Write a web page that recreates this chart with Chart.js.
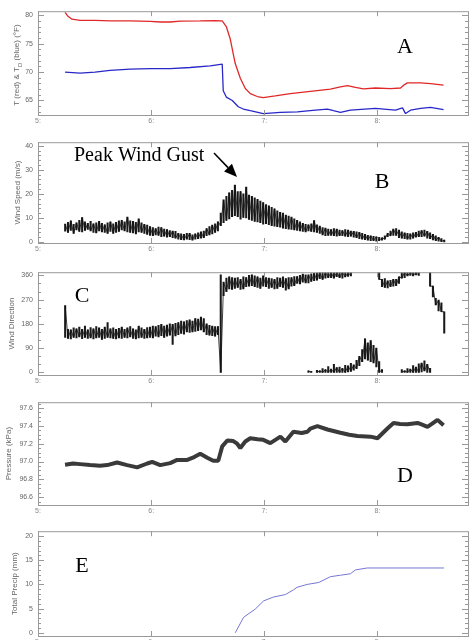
<!DOCTYPE html>
<html>
<head>
<meta charset="utf-8">
<script src="https://cdn.jsdelivr.net/npm/chart.js@4.4.1/dist/chart.umd.min.js"></script>
<style>
  body { margin: 0; background: #fff; width: 470px; height: 640px; overflow: hidden; position: relative; }
  .panel { position: absolute; left: 0; width: 470px; }
</style>
</head>
<body>
<div class="panel" style="top:2px;height:133px"><canvas id="cA"></canvas></div>
<div class="panel" style="top:133px;height:130px"><canvas id="cB"></canvas></div>
<div class="panel" style="top:263px;height:132px"><canvas id="cC"></canvas></div>
<div class="panel" style="top:393px;height:132px"><canvas id="cD"></canvas></div>
<div class="panel" style="top:522px;height:134px"><canvas id="cE"></canvas></div>
<script>
// time axis is hours (5 = 5:00)
const hourTicks = [5, 6, 7, 8];

// A: temperature and dew point (F)
const tempTimes = [5.239, 5.265, 5.30, 5.372, 5.504, 5.637, 5.814, 5.991, 6.08, 6.168,
  6.257, 6.434, 6.566, 6.628, 6.664, 6.699, 6.743, 6.788, 6.832, 6.876,
  6.938, 6.991, 7.097, 7.230, 7.407, 7.584, 7.673, 7.735, 7.805, 7.876,
  7.982, 8.115, 8.204, 8.239, 8.265, 8.381, 8.469, 8.584];
const temp = [80.5, 79.8, 79.3, 79.1, 79.1, 79.0, 79.0, 78.9, 78.8, 78.8,
  78.95, 79.0, 79.05, 79.0, 78.0, 75.8, 71.5, 68.9, 67.1, 66.2,
  65.7, 65.5, 65.8, 66.2, 66.6, 67.0, 67.4, 67.6, 67.3, 67.05,
  67.2, 67.1, 67.2, 67.8, 68.1, 68.1, 67.95, 67.7];
const dewTimes = [5.239, 5.372, 5.504, 5.637, 5.814, 5.991, 6.168, 6.345, 6.522, 6.628,
  6.637, 6.664, 6.717, 6.770, 6.814, 6.876, 6.991, 7.142, 7.292, 7.451,
  7.558, 7.611, 7.673, 7.761, 7.982, 8.159, 8.221, 8.248, 8.292, 8.381,
  8.469, 8.584];
const dewPoint = [70.0, 69.8, 70.0, 70.3, 70.5, 70.6, 70.6, 70.8, 71.1, 71.4,
  66.7, 65.6, 65.0, 63.9, 63.5, 63.2, 62.7, 62.9, 63.0, 63.3,
  63.5, 63.2, 62.9, 63.3, 63.6, 63.3, 63.7, 62.7, 63.3, 63.6,
  63.8, 63.4];

// B and C: wind samples, each one a low..high spread
const windTimes = [
  5.24, 5.265, 5.29, 5.315, 5.34, 5.365, 5.39, 5.415, 5.44, 5.465,
  5.49, 5.515, 5.54, 5.565, 5.59, 5.615, 5.64, 5.665, 5.69, 5.715,
  5.74, 5.765, 5.79, 5.815, 5.84, 5.865, 5.89, 5.915, 5.94, 5.965,
  5.99, 6.015, 6.04, 6.065, 6.09, 6.115, 6.14, 6.165, 6.19, 6.215,
  6.24, 6.265, 6.29, 6.315, 6.34, 6.365, 6.39, 6.415, 6.44, 6.465,
  6.49, 6.515, 6.54, 6.565, 6.59, 6.615, 6.64, 6.665, 6.69, 6.715,
  6.74, 6.765, 6.79, 6.815, 6.84, 6.865, 6.89, 6.915, 6.94, 6.965,
  6.99, 7.015, 7.04, 7.065, 7.09, 7.115, 7.14, 7.165, 7.19, 7.215,
  7.24, 7.265, 7.29, 7.315, 7.34, 7.365, 7.39, 7.415, 7.44, 7.465,
  7.49, 7.515, 7.54, 7.565, 7.59, 7.615, 7.64, 7.665, 7.69, 7.715,
  7.74, 7.765, 7.79, 7.815, 7.84, 7.865, 7.89, 7.915, 7.94, 7.965,
  7.99, 8.015, 8.04, 8.065, 8.09, 8.115, 8.14, 8.165, 8.19, 8.215,
  8.24, 8.265, 8.29, 8.315, 8.34, 8.365, 8.39, 8.415, 8.44, 8.465,
  8.49, 8.515, 8.54, 8.565, 8.59];
const windSpeedHi = [
  7.5, 8.2, 8.8, 7.4, 8.0, 9.0, 10.2, 8.4, 7.8, 8.6,
  7.6, 8.0, 8.6, 7.8, 7.2, 8.0, 8.4, 7.6, 8.2, 8.8,
  9.0, 8.4, 10.4, 8.8, 8.6, 8.2, 9.6, 8.0, 7.4, 7.0,
  6.4, 6.0, 5.6, 6.2, 6.0, 5.4, 5.2, 4.8, 4.6, 4.4,
  3.6, 3.4, 3.2, 3.6, 3.6, 3.0, 3.4, 3.8, 4.2, 4.6,
  5.6, 6.4, 7.0, 7.6, 8.4, 12.0, 17.5, 19.0, 20.5, 21.5,
  23.7, 21.0, 21.0, 20.0, 22.8, 19.5, 19.0, 18.4, 17.8, 17.0,
  16.4, 15.6, 15.0, 14.4, 13.8, 13.0, 12.4, 12.0, 11.2, 10.8,
  10.4, 9.6, 9.0, 8.4, 7.8, 7.4, 7.2, 7.6, 8.9, 7.2,
  6.6, 6.0, 5.8, 5.4, 5.2, 5.6, 5.4, 5.0, 4.8, 5.2,
  5.0, 4.6, 4.4, 4.2, 4.0, 3.6, 3.2, 2.8, 2.6, 2.4,
  2.2, 2.0, 1.8, 2.6, 3.6, 4.6, 5.4, 5.6, 5.0, 4.2,
  3.8, 3.6, 3.4, 3.8, 4.0, 4.6, 4.8, 5.0, 4.4, 3.8,
  3.2, 2.6, 2.0, 1.4, 0.8];
const windSpeedLo = [
  4.5, 4.0, 4.8, 3.6, 5.0, 4.4, 4.2, 4.8, 5.2, 4.6,
  4.0, 3.8, 4.6, 4.2, 4.0, 3.6, 4.4, 3.6, 4.0, 4.4,
  5.0, 4.6, 4.2, 4.0, 3.8, 3.4, 4.2, 4.0, 3.6, 3.2,
  2.8, 2.6, 3.0, 2.8, 2.2, 2.4, 2.0, 2.2, 1.8, 1.6,
  1.2, 1.0, 0.9, 1.2, 1.0, 0.8, 1.2, 1.4, 1.6, 1.8,
  2.6, 3.0, 3.4, 4.0, 4.6, 6.8, 8.0, 9.0, 9.6, 10.5,
  11.0, 10.5, 9.5, 10.2, 10.0, 9.4, 9.0, 8.6, 8.4, 8.0,
  7.4, 7.6, 7.2, 6.8, 6.6, 6.4, 6.2, 5.8, 5.6, 5.4,
  5.2, 5.0, 4.8, 4.6, 4.4, 4.2, 4.6, 4.4, 4.2, 4.0,
  3.6, 3.0, 2.6, 2.8, 2.8, 2.6, 2.4, 2.6, 2.6, 2.4,
  2.2, 2.4, 2.0, 1.8, 1.4, 1.2, 1.0, 0.8, 0.6, 0.6,
  0.4, 0.6, 0.8, 1.2, 2.2, 2.6, 2.8, 2.8, 1.8, 1.6,
  1.4, 1.2, 1.2, 1.6, 2.0, 2.2, 2.2, 2.4, 1.6, 1.4,
  0.9, 0.6, 0.4, 0.2, 0.0];
// direction before it wraps past 360
const windDirHi = [
  248, 160, 158, 165, 162, 168, 160, 172, 158, 166,
  162, 170, 165, 160, 168, 185, 162, 165, 160, 164,
  168, 160, 165, 170, 162, 158, 172, 165, 160, 166,
  168, 172, 170, 175, 178, 172, 176, 180, 178, 182,
  185, 190, 188, 192, 195, 190, 200, 198, 205, 200,
  180, 175, 172, 170, 170, 362, 335, 350, 355, 352,
  350, 352, 345, 355, 352, 360, 362, 358, 355, 350,
  358, 352, 350, 348, 345, 352, 350, 355, 348, 352,
  352, 356, 356, 360, 365, 362, 362, 366, 368, 370,
  372, 372, 372, 372, 372, 372, 372, 372, 372, 372,
  372, 372, null, null, null, null, null, null, null, null,
  null, 372, 345, 348, 340, 342, 345, 345, 355, 372,
  372, 372, 372, 372, 372, 372, null, null, null, 372,
  320, 275, 268, 258, 225];
const windDirLo = [
  130, 126, 124, 130, 128, 132, 125, 130, 126, 128,
  124, 128, 130, 122, 126, 130, 128, 126, 124, 128,
  126, 130, 128, 132, 126, 124, 128, 130, 126, 128,
  130, 128, 134, 132, 136, 130, 134, 138, 104, 135,
  140, 145, 142, 150, 148, 150, 152, 155, 158, 150,
  140, 138, 136, 134, 140, 0, 285, 300, 310, 308,
  312, 315, 308, 310, 318, 320, 322, 318, 315, 312,
  320, 318, 312, 315, 310, 312, 318, 315, 305, 310,
  320, 322, 330, 328, 335, 332, 332, 338, 340, 342,
  348, 345, 350, 352, 352, 350, 355, 352, 350, 354,
  356, 358, null, null, null, null, null, null, null, null,
  null, 345, 318, 315, 314, 318, 320, 322, 330, 350,
  352, 358, 360, 358, 362, 360, null, null, null, 320,
  280, 250, 228, 225, 146];
// direction after wrapping past 360 (from windTimes[86] on)
const windWrapStart = 86;
const windWrapHi = [
  6, 4, null, 8, 6, 14, 10, 22, 12, 30,
  18, 20, 15, 26, 24, 34, 28, 45, 60, 85,
  125, 110, 118, 100, 90, 40, 10, null, null, null,
  null, null, null, 10, 6, 14, 12, 25, 20, 32,
  35, 43, 30, 15];
const windWrapLo = [
  0, 0, null, 0, 0, 0, 0, 0, 0, 0,
  0, 0, 0, 0, 2, 4, 8, 14, 25, 40,
  50, 45, 40, 35, 20, 0, 0, null, null, null,
  null, null, null, 0, 0, 0, 0, 0, 0, 0,
  2, 5, 0, 0];

// D: pressure (kPa)
const presTimes = [5.239, 5.310, 5.372, 5.460, 5.549, 5.611, 5.699, 5.788, 5.876, 5.965,
  6.009, 6.080, 6.168, 6.230, 6.319, 6.380, 6.434, 6.496, 6.549, 6.593,
  6.628, 6.673, 6.726, 6.760, 6.788, 6.832, 6.876, 6.940, 6.991, 7.053,
  7.142, 7.186, 7.257, 7.330, 7.381, 7.407, 7.469, 7.558, 7.673, 7.750,
  7.823, 7.938, 8.000, 8.088, 8.142, 8.200, 8.265, 8.354, 8.400, 8.442,
  8.531, 8.584];
const pressure = [96.964, 96.978, 96.971, 96.96, 96.953, 96.96, 96.989, 96.96, 96.935, 96.978,
  96.997, 96.96, 96.982, 97.018, 97.018, 97.05, 97.087, 97.043, 97.008, 97.008,
  97.17, 97.236, 97.23, 97.2, 97.152, 97.225, 97.261, 97.25, 97.243, 97.207,
  97.279, 97.225, 97.334, 97.32, 97.334, 97.37, 97.396, 97.359, 97.323, 97.30,
  97.287, 97.279, 97.261, 97.37, 97.432, 97.42, 97.417, 97.432, 97.41, 97.388,
  97.467, 97.406];

// E: total precipitation (mm)
const precipTimes = [6.743, 6.817, 6.920, 6.994, 7.082, 7.186, 7.259, 7.289, 7.378, 7.481,
  7.584, 7.673, 7.761, 7.805, 7.909, 8.587];
const precip = [0, 3.2, 4.9, 6.6, 7.4, 7.9, 8.9, 9.4, 10.0, 10.4,
  11.6, 11.9, 12.2, 13.0, 13.4, 13.4];

function pts(times, vals) {
  return vals.map((v, i) => ({ x: times[i], y: v }));
}
function spread(times, lo, hi) {
  const out = [];
  lo.forEach((v, i) => { if (v !== null) out.push({ x: times[i], y: [v, hi[i]] }); });
  return out;
}
// the same samples, joined high-low-high so the trace looks noisy
function zig(times, lo, hi) {
  return lo.map((v, i) => ({ x: times[i], y: v === null ? null : (i % 2 ? v : hi[i]) }));
}
function stripes(data) {
  return { type: 'bar', data: data, backgroundColor: '#1a1a1a', borderWidth: 0,
    barThickness: 1.4, grouped: false };
}
function trace(data) {
  return { data: data, borderColor: '#111', borderWidth: 0.8, spanGaps: false };
}

const sans = '"Liberation Sans", Arial, sans-serif';
const serif = '"Liberation Serif", "Times New Roman", serif';
const tickFont = { family: sans, size: 7 };

// box round the plot with inward ticks on all sides
const framePlugin = {
  id: 'frame',
  afterDraw(chart, args, o) {
    const { ctx, chartArea: a, scales } = chart;
    const x = scales.x, y = scales.y;
    ctx.save();
    ctx.strokeStyle = '#999';
    ctx.lineWidth = 1;
    ctx.strokeRect(a.left + 0.5, a.top + 0.5, a.right - a.left, a.bottom - a.top);
    ctx.beginPath();
    (o.minor || []).forEach(v => {
      const p = Math.round(y.getPixelForValue(v)) + 0.5;
      ctx.moveTo(a.left, p); ctx.lineTo(a.left + 3, p);
      ctx.moveTo(a.right, p); ctx.lineTo(a.right - 3, p);
    });
    y.ticks.forEach(t => {
      const p = Math.round(y.getPixelForValue(t.value)) + 0.5;
      ctx.moveTo(a.left, p); ctx.lineTo(a.left + 6, p);
      ctx.moveTo(a.right, p); ctx.lineTo(a.right - 6, p);
    });
    x.ticks.forEach(t => {
      const p = Math.round(x.getPixelForValue(t.value)) + 0.5;
      ctx.moveTo(p, a.bottom); ctx.lineTo(p, a.bottom - 5);
      ctx.moveTo(p, a.top); ctx.lineTo(p, a.top + 5);
    });
    ctx.stroke();
    ctx.restore();
  }
};

// panel letters, the gust note and the T/Td axis title
const notesPlugin = {
  id: 'notes',
  afterDraw(chart, args, o) {
    const ctx = chart.ctx;
    ctx.save();
    ctx.fillStyle = '#000';
    ctx.textBaseline = 'alphabetic';
    (o.texts || []).forEach(n => {
      ctx.font = n.size + 'px ' + serif;
      ctx.textAlign = n.align || 'center';
      ctx.fillText(n.text, n.x, n.y);
    });
    if (o.arrow) {
      const [x1, y1, x2, y2] = o.arrow;
      const ang = Math.atan2(y2 - y1, x2 - x1);
      const hx = x2 - 13 * Math.cos(ang), hy = y2 - 13 * Math.sin(ang);
      ctx.strokeStyle = '#000';
      ctx.lineWidth = 1.5;
      ctx.beginPath(); ctx.moveTo(x1, y1); ctx.lineTo(hx, hy); ctx.stroke();
      ctx.beginPath();
      ctx.moveTo(x2, y2);
      ctx.lineTo(hx + 5.5 * Math.sin(ang), hy - 5.5 * Math.cos(ang));
      ctx.lineTo(hx - 5.5 * Math.sin(ang), hy + 5.5 * Math.cos(ang));
      ctx.closePath(); ctx.fill();
    }
    if (o.tdTitle) {
      const a = chart.chartArea;
      ctx.translate(17, (a.top + a.bottom) / 2 + 2);
      ctx.rotate(-Math.PI / 2);
      ctx.fillStyle = '#666';
      ctx.textAlign = 'left';
      ctx.textBaseline = 'middle';
      const p1 = 'T (red) & T', p2 = 'D', p3 = ' (blue) (\u00B0F)';
      ctx.font = '8px ' + sans;
      const w1 = ctx.measureText(p1).width, w3 = ctx.measureText(p3).width;
      ctx.font = '6px ' + sans;
      const w2 = ctx.measureText(p2).width;
      const s = -(w1 + w2 + w3) / 2;
      ctx.font = '8px ' + sans;
      ctx.fillText(p1, s, 0);
      ctx.fillText(p3, s + w1 + w2, 0);
      ctx.font = '6px ' + sans;
      ctx.fillText(p2, s + w1, 3);
    }
    ctx.restore();
  }
};

function panel(id, datasets, yMin, yMax, yMajor, yMinor, decimals, yTitle, titlePad, notes) {
  return new Chart(document.getElementById(id), {
    type: 'line',
    data: { datasets: datasets },
    options: {
      responsive: true,
      maintainAspectRatio: false,
      animation: false,
      layout: { padding: { top: 6, right: 2, left: 0, bottom: 0 } },
      elements: { point: { radius: 0 }, line: { tension: 0, borderJoinStyle: 'bevel' } },
      plugins: {
        legend: { display: false },
        tooltip: { enabled: false },
        frame: { minor: yMinor },
        notes: notes
      },
      scales: {
        x: {
          type: 'linear', min: 5, max: 8.8, offset: false,
          afterBuildTicks: s => { s.ticks = hourTicks.map(v => ({ value: v })); },
          afterFit: s => { s.height = 20; },
          grid: { display: false, drawTicks: false, offset: false },
          border: { display: false },
          ticks: { font: tickFont, color: '#888', padding: 2, autoSkip: false, maxRotation: 0,
            callback: v => v + ':' }
        },
        y: {
          type: 'linear', min: yMin, max: yMax,
          afterBuildTicks: s => { s.ticks = yMajor.map(v => ({ value: v })); },
          afterFit: s => { s.width = 38; },
          grid: { display: false, drawTicks: false },
          border: { display: false },
          ticks: { font: tickFont, color: '#666', padding: 5, autoSkip: false,
            callback: v => Number(v).toFixed(decimals) },
          title: { display: !!yTitle, text: yTitle || '', color: '#666',
            font: { family: sans, size: 8 }, padding: { top: titlePad, bottom: 0 } }
        }
      }
    },
    plugins: [framePlugin, notesPlugin]
  });
}

panel('cA', [
  { data: pts(tempTimes, temp), borderColor: '#e02828', borderWidth: 1.3 },
  { data: pts(dewTimes, dewPoint), borderColor: '#2828c8', borderWidth: 1.3 }
], 62.45, 80.7, [65, 70, 75, 80],
  [63, 64, 66, 67, 68, 69, 71, 72, 73, 74, 76, 77, 78, 79], 0, null, 0,
  { tdTitle: true, texts: [{ text: 'A', x: 405, y: 51, size: 22 }] });

panel('cB', [
  trace(zig(windTimes, windSpeedLo, windSpeedHi)),
  stripes(spread(windTimes, windSpeedLo, windSpeedHi))
], -0.4, 41.5, [0, 10, 20, 30, 40],
  [2, 4, 6, 8, 12, 14, 16, 18, 22, 24, 26, 28, 32, 34, 36, 38], 0, 'Wind Speed (m/s)', 13,
  { texts: [{ text: 'B', x: 382, y: 55, size: 22 },
            { text: 'Peak Wind Gust', x: 74, y: 28, size: 20, align: 'left' }],
    arrow: [214, 20, 237, 44] });

const wrapTimes = windTimes.slice(windWrapStart);
panel('cC', [
  trace(zig(windTimes, windDirLo, windDirHi)),
  trace(zig(wrapTimes, windWrapLo, windWrapHi)),
  stripes(spread(windTimes, windDirLo, windDirHi)),
  stripes(spread(wrapTimes, windWrapLo, windWrapHi))
], -9.7, 371.9, [0, 90, 180, 270, 360],
  [30, 60, 120, 150, 210, 240, 300, 330], 0, 'Wind Direction', 7,
  { texts: [{ text: 'C', x: 82, y: 39, size: 22 }] });

panel('cD', [
  { data: pts(presTimes, pressure), borderColor: '#3a3a3a', borderWidth: 4 }
], 96.513, 97.665, [96.6, 96.8, 97.0, 97.2, 97.4, 97.6],
  [96.55, 96.65, 96.7, 96.75, 96.85, 96.9, 96.95, 97.05, 97.1, 97.15, 97.25, 97.3, 97.35, 97.45, 97.5, 97.55, 97.65],
  1, 'Pressure (kPa)', 4,
  { texts: [{ text: 'D', x: 405, y: 89, size: 22 }] });

panel('cE', [
  { data: pts(precipTimes, precip), borderColor: '#7676d2', borderWidth: 1 }
], -0.66, 21.0, [0, 5, 10, 15, 20],
  [1, 2, 3, 4, 6, 7, 8, 9, 11, 12, 13, 14, 16, 17, 18, 19], 0, 'Total Precip (mm)', 10,
  { texts: [{ text: 'E', x: 82, y: 50, size: 22 }] });
</script>
</body>
</html>
